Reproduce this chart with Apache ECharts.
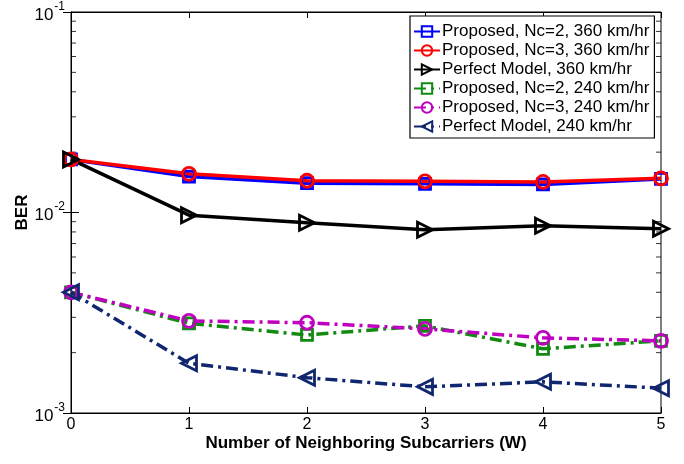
<!DOCTYPE html>
<html>
<head>
<meta charset="utf-8">
<script src="https://cdn.jsdelivr.net/npm/echarts@6/dist/echarts.min.js"></script>
<style>
html,body{margin:0;padding:0;background:#fff;}
#c{width:684px;height:464px;}
</style>
</head>
<body>
<div id="c"></div>
<script>
var xValues = [0, 1, 2, 3, 4, 5];
var seriesNames = [
  'Proposed, Nc=2, 360 km/hr',
  'Proposed, Nc=3, 360 km/hr',
  'Perfect Model, 360 km/hr',
  'Proposed, Nc=2, 240 km/hr',
  'Proposed, Nc=3, 240 km/hr',
  'Perfect Model, 240 km/hr'
];
var nc2_360 = [0.0184, 0.0151, 0.0140, 0.0139, 0.0138, 0.0147];
var nc3_360 = [0.0184, 0.0156, 0.0144, 0.0143, 0.0142, 0.0148];
var perfect_360 = [0.0184, 0.0097, 0.0089, 0.0082, 0.0086, 0.0083];
var nc2_240 = [0.0040, 0.0028, 0.00245, 0.00272, 0.00209, 0.00229];
var nc3_240 = [0.0040, 0.00288, 0.00282, 0.00263, 0.00237, 0.00229];
var perfect_240 = [0.0040, 0.00177, 0.00150, 0.00135, 0.00143, 0.00133];
var yMin = 0.001, yMax = 0.1;
var minorTickValues = [0.002, 0.003, 0.004, 0.005, 0.006, 0.007, 0.008, 0.009,
                       0.02, 0.03, 0.04, 0.05, 0.06, 0.07, 0.08, 0.09];
var xTitle = 'Number of Neighboring Subcarriers (W)';
var yTitle = 'BER';

function pairs(ys) { return xValues.map(function (x, i) { return [x, ys[i]]; }); }

var FONT = 'Liberation Sans, Arial, Helvetica, sans-serif';
var triRight = 'path://M0,0 L10,5 L0,10 Z';
var triLeft = 'path://M10,0 L0,5 L10,10 Z';
var dashDot = [12, 5, 3, 5];

function mkLine(name, data, color, symbol, size, dashed) {
  return {
    name: name, type: 'line', data: pairs(data),
    symbol: symbol, symbolSize: size, showSymbol: true,
    lineStyle: { color: color, width: 3.5, type: dashed ? dashDot : 'solid' },
    itemStyle: { color: 'rgba(255,255,255,0)', borderColor: color, borderWidth: 2.8 },
    emphasis: { disabled: true }, animation: false, clip: false
  };
}

function minorSeries(xPos, off) {
  return {
    type: 'scatter', silent: true, animation: false, clip: false,
    data: minorTickValues.map(function (v) { return [xPos, v]; }),
    symbol: 'rect', symbolSize: [5, 1], symbolOffset: [off, 0],
    itemStyle: { color: '#000' }, z: 1
  };
}

var chart = echarts.init(document.getElementById('c'), null, { renderer: 'canvas' });
var labelFmt = function (v) {
  var e = Math.round(Math.log10(v));
  return '{b|10}{s|' + e + '}';
};
var richLbl = {
  b: { fontSize: 17, fontFamily: FONT, color: '#000', verticalAlign: 'bottom', padding: [6, 0, 0, 0] },
  s: { fontSize: 12, fontFamily: FONT, color: '#000', verticalAlign: 'top', padding: [0, 0, 9, 1] }
};

chart.setOption({
  backgroundColor: '#fff',
  animation: false,
  grid: { left: 71, right: 23, top: 12, bottom: 51, show: true, borderColor: '#000', borderWidth: 1,
          outerBoundsMode: 'none', containLabel: false },
  legend: {
    data: seriesNames,
    orient: 'vertical', left: 410, top: 16,
    backgroundColor: '#fff', borderColor: '#000', borderWidth: 1.2,
    padding: [7, 5, 3, 3], itemWidth: 26, itemHeight: 13, itemGap: 2,
    textStyle: { fontSize: 17, fontFamily: FONT, color: '#000', padding: [0, 0, 0, -3] },
    selectedMode: false
  },
  xAxis: [{
    type: 'value', min: 0, max: 5, interval: 1,
    name: xTitle, nameLocation: 'middle', nameGap: 22, nameMoveOverlap: false,
    nameTextStyle: { fontSize: 17, fontWeight: 'bold', fontFamily: FONT, color: '#000' },
    axisLine: { show: true, lineStyle: { color: '#000', width: 1 } },
    axisTick: { show: true, inside: true, length: 6, lineStyle: { color: '#000' } },
    axisLabel: { fontSize: 16, fontFamily: FONT, color: '#000', margin: 4 },
    splitLine: { show: false }
  }, {
    type: 'value', min: 0, max: 5, interval: 1, position: 'top',
    axisLine: { show: true, lineStyle: { color: '#000' } },
    axisTick: { show: true, inside: true, length: 6, lineStyle: { color: '#000' } },
    axisLabel: { show: false }, splitLine: { show: false }
  }],
  yAxis: [{
    type: 'log', logBase: 10, min: yMin, max: yMax,
    name: yTitle, nameLocation: 'middle', nameGap: 40, nameMoveOverlap: false,
    nameTextStyle: { fontSize: 17, fontWeight: 'bold', fontFamily: FONT, color: '#000' },
    axisLine: { show: true, lineStyle: { color: '#000' } },
    axisTick: { show: true, inside: true, length: 8, lineStyle: { color: '#000' } },
    axisLabel: { formatter: labelFmt, rich: richLbl, margin: 6 },
    splitLine: { show: false }, minorTick: { show: false }
  }, {
    type: 'log', logBase: 10, min: yMin, max: yMax, position: 'right',
    axisLine: { show: true, lineStyle: { color: '#000' } },
    axisTick: { show: true, inside: true, length: 8, lineStyle: { color: '#000' } },
    axisLabel: { show: false }, splitLine: { show: false }
  }],
  series: [
    minorSeries(0, 2.5),
    minorSeries(5, -2.5),
    mkLine(seriesNames[0], nc2_360, '#0000ff', 'rect', 11, false),
    mkLine(seriesNames[1], nc3_360, '#ff0000', 'circle', 13, false),
    mkLine(seriesNames[2], perfect_360, '#000000', triRight, 15, false),
    mkLine(seriesNames[3], nc2_240, '#128a12', 'rect', 11, true),
    mkLine(seriesNames[4], nc3_240, '#c000c0', 'circle', 13, true),
    mkLine(seriesNames[5], perfect_240, '#10266e', triLeft, 15, true)
  ]
});
</script>
</body>
</html>
